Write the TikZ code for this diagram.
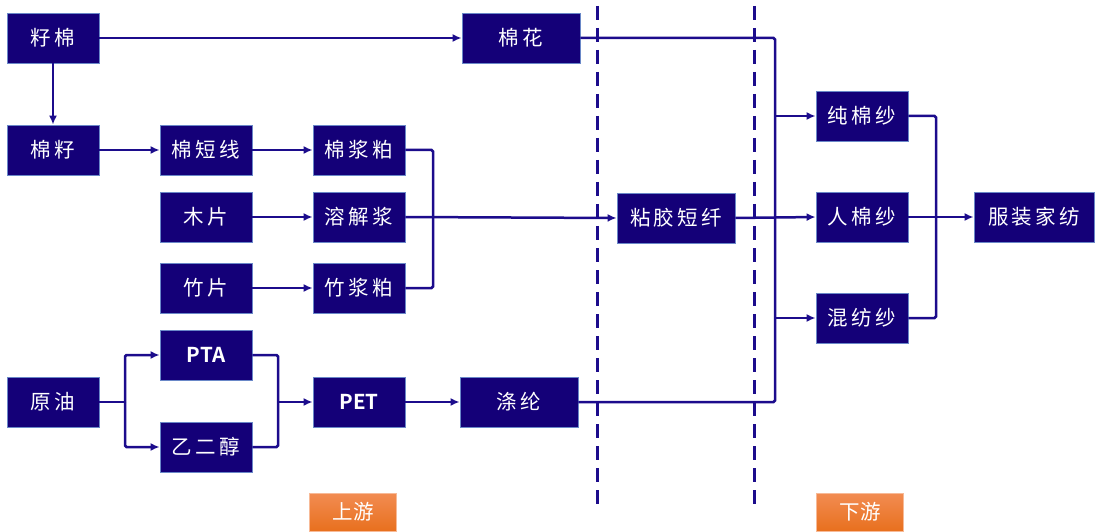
\documentclass[tikz,border=0pt]{standalone}
\usepackage{fontspec}
\newfontfamily\cjk[LetterSpace=16]{Noto Sans CJK SC}
\newfontfamily\cjklab{Noto Sans CJK SC}
\newfontfamily\cjkbold{Noto Sans CJK SC Bold}
\usetikzlibrary{arrows.meta,positioning}
\definecolor{boxfill}{HTML}{140078}
\definecolor{boxedge}{HTML}{6A88C8}
\definecolor{linec}{HTML}{1C0C8C}
\definecolor{orangetop}{HTML}{F28C52}
\definecolor{orangebot}{HTML}{E8701E}
\tikzset{
  stepbox/.style={draw=boxedge, line width=0.8pt, fill=boxfill, text=white,
    minimum width=92pt, minimum height=50pt, inner sep=0pt,
    font=\cjk\fontsize{20.5}{20.5}\selectfont},
  widebox/.style={stepbox, minimum width=118pt},
  link/.style={draw=linec, line width=2.5pt, rounded corners=1.5pt},
  arr/.style={link, -{Latex[length=9pt,width=8pt]}},
  divider/.style={draw=linec, line width=3pt, dash pattern=on 14pt off 8pt},
  stage/.style={top color=orangetop, bottom color=orangebot, draw=orangetop!60!white,
    line width=0.6pt, text=white, minimum width=87pt, minimum height=38pt,
    inner sep=0pt, font=\cjklab\fontsize{20.5}{20.5}\selectfont}
}
\begin{document}
\begin{tikzpicture}[x=1pt,y=-1pt]
\useasboundingbox (0,0) rectangle (1096,532);
% dividers
\coordinate (d1t) at (597,6); \coordinate (d1b) at (597,506);
\coordinate (d2t) at (754,6); \coordinate (d2b) at (754,506);
\draw[divider] (d1t) -- (d1b);
\draw[divider] (d2t) -- (d2b);
% nodes
\node[stepbox] (zm) at (53,38) {籽棉};
\node[stepbox] (mz) at (53,150) {棉籽};
\node[stepbox] (mdx) at (206,150) {棉短线};
\node[stepbox] (mp) at (206,217) {木片};
\node[stepbox] (zp) at (206,288) {竹片};
\node[stepbox] (mjp) at (359,150) {棉浆粕};
\node[stepbox] (rjj) at (359,217) {溶解浆};
\node[stepbox] (zjp) at (359,288) {竹浆粕};
\node[widebox] (mh) at (521,38) {棉花};
\node[widebox] (njdx) at (676,218) {粘胶短纤};
\node[stepbox] (yy) at (53,402) {原油};
\node[stepbox] (pta) at (206,355) {\cjkbold PTA};
\node[stepbox] (yec) at (206,447) {乙二醇};
\node[stepbox] (pet) at (359,402) {\cjkbold PET};
\node[widebox] (dl) at (519,402) {涤纶};
\node[stepbox] (cms) at (862,116) {纯棉纱};
\node[stepbox] (rms) at (862,217) {人棉纱};
\node[stepbox] (hfs) at (862,318) {混纺纱};
\node[widebox, minimum width=120pt] (fzjf) at (1034,217) {服装家纺};
\node[stage] (sy) at (353,512) {上游};
\node[stage] (xy) at (860,512) {下游};
% junction coordinates
\coordinate (jA) at (433,150);
\coordinate (jB) at (433,288);
\coordinate (bt) at (775,38);
\coordinate (bb) at (775,402);
\coordinate (b1) at (775,116);
\coordinate (b3) at (775,318);
\coordinate (r1) at (936,116);
\coordinate (r3) at (936,318);
\coordinate (s0) at (125,402);
\coordinate (s1) at (125,355);
\coordinate (s2) at (125,447);
\coordinate (m1) at (278,355);
\coordinate (m2) at (278,447);
\coordinate (m0) at (278,402);
% connectors
\draw[arr] (zm.east) -- (mh.west);
\draw[arr] (zm.south) -- (mz.north);
\draw[arr] (mz.east) -- (mdx.west);
\draw[arr] (mdx.east) -- (mjp.west);
\draw[arr] (mp.east) -- (rjj.west);
\draw[arr] (zp.east) -- (zjp.west);
\draw[link] (mjp.east) -- (jA) -- (jB) -- (zjp.east);
\draw[arr] (rjj.east) -- (njdx.west);
\draw[link] (mh.east) -- (bt) -- (bb) -- (dl.east);
\draw[arr] (njdx.east) -- (rms.west);
\draw[arr] (b1) -- (cms.west);
\draw[arr] (b3) -- (hfs.west);
\draw[link] (cms.east) -- (r1) -- (r3) -- (hfs.east);
\draw[arr] (rms.east) -- (fzjf.west);
\draw[link] (yy.east) -- (s0);
\draw[arr] (s0) -- (s1) -- (pta.west);
\draw[arr] (s0) -- (s2) -- (yec.west);
\draw[link] (pta.east) -- (m1) -- (m2) -- (yec.east);
\draw[arr] (m0) -- (pet.west);
\draw[arr] (pet.east) -- (dl.west);
\end{tikzpicture}
\end{document}
